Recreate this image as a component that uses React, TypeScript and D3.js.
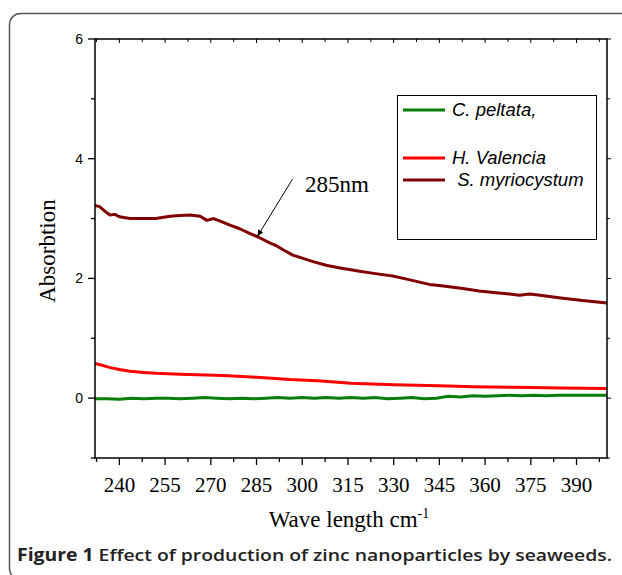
import * as d3 from "d3";

// series (wavelength in nm, absorbance)
const wlCp = [232, 236, 240, 244, 248, 252, 256, 260, 264, 268, 272, 276, 280, 284, 288, 292, 296, 300, 304, 308, 312, 316, 320, 324, 328, 332, 336, 340, 344, 348, 352, 356, 360, 364, 368, 372, 376, 380, 384, 388, 392, 396, 400];
const absCp = [-0.01, -0.01, -0.02, 0.0, -0.01, 0.0, 0.0, -0.01, 0.0, 0.01, 0.0, -0.01, 0.0, -0.01, 0.0, 0.01, 0.0, 0.01, 0.0, 0.01, 0.0, 0.01, 0.0, 0.01, -0.01, 0.0, 0.01, -0.01, 0.0, 0.03, 0.02, 0.04, 0.03, 0.04, 0.05, 0.04, 0.05, 0.04, 0.05, 0.05, 0.05, 0.05, 0.05];

const wlHv = [232, 235, 237, 240, 243.5, 248, 252, 260, 274, 285, 296, 305, 316, 330, 345, 356, 370, 385, 400];
const absHv = [0.58, 0.54, 0.51, 0.48, 0.45, 0.43, 0.415, 0.4, 0.38, 0.35, 0.31, 0.29, 0.25, 0.225, 0.205, 0.19, 0.18, 0.17, 0.16];

const wlSm = [232, 233.5, 235.3, 236.9, 238.5, 240, 243.5, 248, 252, 256.6, 260, 263.2, 266.5, 268.7, 270.9, 273.5, 276.3, 279.5, 282.9, 286, 289.5, 291.4, 294, 296.9, 300, 303, 307.8, 312, 318.8, 324, 329.7, 335, 341.7, 345, 352.7, 358, 363.6, 368, 371.3, 374.6, 378, 385.5, 392, 400];
const absSm = [3.22, 3.2, 3.12, 3.06, 3.07, 3.03, 3.0, 3.0, 3.0, 3.04, 3.05, 3.06, 3.04, 2.97, 3.0, 2.95, 2.89, 2.83, 2.75, 2.68, 2.59, 2.55, 2.47, 2.39, 2.34, 2.29, 2.22, 2.18, 2.12, 2.08, 2.04, 1.98, 1.9, 1.88, 1.83, 1.79, 1.76, 1.74, 1.72, 1.74, 1.72, 1.67, 1.63, 1.59];

const seriesNames = ["C. peltata,", "H. Valencia", " S. myriocystum"];
const seriesColors = ["#0a7d0a", "#ff0000", "#800000"];

const xTicks = [240, 255, 270, 285, 300, 315, 330, 345, 360, 375, 390];
const xMinor = [232.5, 247.5, 262.5, 277.5, 292.5, 307.5, 322.5, 337.5, 352.5, 367.5, 382.5, 397.5];
const yTicks = [0, 2, 4, 6];
const yMinor = [-1, 1, 3, 5];

const W = 622;
const H = 575;
const left = 95, right = 607, top = 39, bottom = 458;

export default function App() {
  const x = d3.scaleLinear().domain([232, 400]).range([left, right]);
  const y = d3.scaleLinear().domain([-1, 6]).range([bottom, top]);

  const line = d3
    .line<[number, number]>()
    .x((d) => x(d[0]))
    .y((d) => y(d[1]));

  const series = [
    d3.zip(wlCp, absCp) as [number, number][],
    d3.zip(wlHv, absHv) as [number, number][],
    d3.zip(wlSm, absSm) as [number, number][],
  ];

  const legendY = [110, 158, 180];

  // arrow to the 285 nm point
  const tipX = x(285);
  const tipY = y(2.69);
  const startX = tipX + 36;
  const startY = tipY - 58;

  return (
    <svg width={W} height={H} style={{ position: "absolute", left: 0, top: 0 }}>
      <defs>
        <marker id="arr" viewBox="0 0 10 10" refX="9" refY="5" markerWidth="7" markerHeight="7" orient="auto">
          <path d="M0,1 L10,5 L0,9 z" fill="#000" />
        </marker>
        <clipPath id="plot">
          <rect x={left} y={top} width={right - left} height={bottom - top} />
        </clipPath>
      </defs>
      <rect x={0} y={0} width={W} height={H} fill="#fff" />
      {/* outer figure frame */}
      <rect x={9.5} y={13.5} width={700} height={566} rx={11} fill="none" stroke="#555" strokeWidth={1.5} />

      {/* curves */}
      <g clipPath="url(#plot)">
        {series.map((s, i) => (
          <path key={i} d={line(s) ?? ""} fill="none" stroke={seriesColors[i]} strokeWidth={3} strokeLinejoin="round" />
        ))}
      </g>

      {/* plot frame */}
      <rect x={left} y={top} width={right - left} height={bottom - top} fill="none" stroke="#000" strokeWidth={1.5} />

      {/* bottom + top ticks */}
      {xTicks.map((t) => (
        <g key={"xt" + t}>
          <line x1={x(t)} x2={x(t)} y1={bottom} y2={bottom + 7} stroke="#000" strokeWidth={1.3} />
          <line x1={x(t)} x2={x(t)} y1={top} y2={top + 4} stroke="#000" strokeWidth={1} />
          <text x={x(t)} y={bottom + 34} textAnchor="middle" fontFamily="'Liberation Serif', serif" fontSize={21}>
            {t}
          </text>
        </g>
      ))}
      {xMinor.map((t) => (
        <g key={"xm" + t}>
          <line x1={x(t)} x2={x(t)} y1={bottom} y2={bottom + 4} stroke="#000" strokeWidth={1.3} />
          <line x1={x(t)} x2={x(t)} y1={top} y2={top + 3} stroke="#000" strokeWidth={1} />
        </g>
      ))}

      {/* left + right ticks */}
      {yTicks.map((t) => (
        <g key={"yt" + t}>
          <line x1={left - 7} x2={left} y1={y(t)} y2={y(t)} stroke="#000" strokeWidth={1.3} />
          <line x1={right} x2={right + 4} y1={y(t)} y2={y(t)} stroke="#000" strokeWidth={1} />
          <text x={left - 12} y={y(t) + 5} textAnchor="end" fontFamily="'Liberation Sans', Arial, sans-serif" fontSize={14}>
            {t}
          </text>
        </g>
      ))}
      {yMinor.map((t) => (
        <g key={"ym" + t}>
          <line x1={left - 4} x2={left} y1={y(t)} y2={y(t)} stroke="#000" strokeWidth={1.3} />
          <line x1={right} x2={right + 3} y1={y(t)} y2={y(t)} stroke="#000" strokeWidth={1} />
        </g>
      ))}

      {/* axis titles */}
      <text
        transform={`translate(55,251) rotate(-90)`}
        textAnchor="middle"
        fontFamily="'Liberation Serif', serif"
        fontSize={23}
      >
        Absorbtion
      </text>
      <text x={(left + right) / 2 - 2} y={527} textAnchor="middle" fontFamily="'Liberation Serif', serif" fontSize={23}>
        Wave length cm<tspan fontSize={14} dy={-9}>-1</tspan>
      </text>

      {/* legend */}
      <rect x={397.5} y={95.5} width={199} height={144} fill="#fff" stroke="#000" strokeWidth={1} />
      {seriesNames.map((n, i) => (
        <g key={n}>
          <line x1={403} x2={445} y1={legendY[i]} y2={legendY[i]} stroke={seriesColors[i]} strokeWidth={3} />
          <text
            x={452}
            y={legendY[i] + 6}
            fontFamily="'Liberation Sans', Arial, sans-serif"
            fontStyle="italic"
            fontSize={18.5}
            xmlSpace="preserve"
            style={{ whiteSpace: "pre" }}
          >
            {n}
          </text>
        </g>
      ))}

      {/* annotation */}
      <line x1={startX} y1={startY} x2={tipX + 1} y2={tipY - 1} stroke="#000" strokeWidth={1} markerEnd="url(#arr)" />
      <text x={305} y={192} fontFamily="'Liberation Serif', serif" fontSize={23}>
        285nm
      </text>

      {/* caption */}
      <text x={17} y={561} fontFamily="'Open Sans', sans-serif" fontSize={17} fill="#222" textLength={595} lengthAdjust="spacingAndGlyphs">
        <tspan fontWeight={700}>Figure 1</tspan>
        <tspan fontWeight={600}> Effect of production of zinc nanoparticles by seaweeds.</tspan>
      </text>
    </svg>
  );
}
